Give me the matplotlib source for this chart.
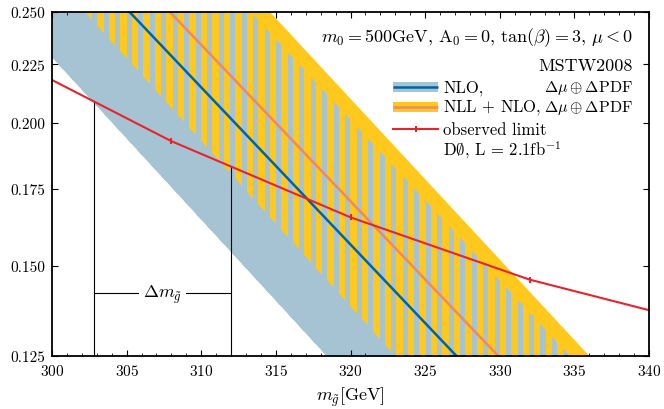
import numpy as np
import matplotlib
matplotlib.use("Agg")
import matplotlib.pyplot as plt
from matplotlib.ticker import MultipleLocator, FixedLocator, FixedFormatter, NullLocator

plt.rcParams['font.family'] = 'serif'
plt.rcParams['font.serif'] = ['cmr10']
plt.rcParams['mathtext.fontset'] = 'cm'
plt.rcParams['axes.formatter.use_mathtext'] = True
plt.rcParams['font.size'] = 13

# band edges, given at the top (0.25) and bottom (0.125) of the plot
y_ends = [0.25, 0.125]
nlo_low = [297.2, 318.4]
nlo_high = [313.3, 334.7]
nlo_central = [305.2, 327.1]
nll_low = [302.2, 323.0]
nll_high = [314.6, 336.0]
nll_central = [307.9, 329.9]

# observed limit
obs_mass = [300, 308, 320, 332, 340]
obs_xsec = [0.218, 0.1927, 0.1653, 0.1458, 0.1371]
obs_marked = [1, 2, 3]

# mass uncertainty bracket
dm_left, dm_right = 302.8, 312.0
dm_left_top, dm_right_top = 0.2085, 0.1833
dm_level = 0.1418

yticks = [0.125, 0.150, 0.175, 0.200, 0.225, 0.250]
ytick_labels = ['0.125', '0.150', '0.175', '0.200', '0.225', '0.250']

c_lightblue = '#a5c3d3'
c_yellow = '#ffc81c'
c_blue = '#0063a5'
c_orange = '#f08a5d'
c_red = '#e8232b'

fig = plt.figure(figsize=(6.64, 4.10), dpi=100)
ax = fig.add_axes([52/664, 1-357/410, 597/664, 344/410])
ax.set_yscale('log')
ax.set_xlim(300, 340)
ax.set_ylim(0.125, 0.25)

# bands
blue_band = ax.fill_betweenx(y_ends, nlo_low, nlo_high, color=c_lightblue, lw=0, zorder=1)
ax.fill_betweenx(y_ends, nll_low, nll_high, color=c_yellow, lw=0, zorder=2)

# vertical stripes where the two bands overlap
clip = blue_band.get_paths()[0]
stripes = ax.bar(np.arange(295, 340, 0.77), 0.2, width=0.34, bottom=0.1,
                 align='edge', color=c_lightblue, lw=0, zorder=3)
for p in stripes:
    p.set_clip_path(clip, transform=ax.transData)

ax.plot(nlo_central, y_ends, color=c_blue, lw=1.8, zorder=4)
ax.plot(nll_central, y_ends, color=c_orange, lw=1.8, zorder=4)

# delta m bracket
ax.vlines([dm_left, dm_right], 0.125, [dm_left_top, dm_right_top], color='black', lw=0.8, zorder=5)
ax.hlines(dm_level, dm_left, dm_right, color='black', lw=0.8, zorder=5)
ax.text((dm_left + dm_right)/2, dm_level, r'$\Delta m_{\tilde{g}}$', ha='center', va='center',
        zorder=6, bbox=dict(facecolor='white', edgecolor='none', pad=3))

ax.plot(obs_mass, obs_xsec, color=c_red, lw=1.5, zorder=7)
ax.plot([obs_mass[i] for i in obs_marked], [obs_xsec[i] for i in obs_marked],
        ls='none', marker='|', ms=4, mew=1.5, color=c_red, zorder=7)

# axes
ax.xaxis.set_major_locator(MultipleLocator(5))
ax.xaxis.set_minor_locator(MultipleLocator(1))
ax.yaxis.set_major_locator(FixedLocator(yticks))
ax.yaxis.set_major_formatter(FixedFormatter(ytick_labels))
ax.yaxis.set_minor_locator(NullLocator())
ax.yaxis.set_minor_formatter(FixedFormatter([]))
ax.tick_params(which='both', direction='in', top=True, right=True)
ax.tick_params(which='major', length=4, width=0.8, labelsize=11, pad=5)
ax.tick_params(which='minor', length=2, width=0.6)
for s in ax.spines.values():
    s.set_linewidth(1.3)
    s.set_zorder(9)
ax.set_xlabel(r'$m_{\tilde{g}}[\mathrm{GeV}]$', fontsize=13, labelpad=5)

# texts and legend, placed in axes fractions
def axpos(px, py):
    return (px - 52) / 597, (357 - py) / 344

T = ax.transAxes
ax.text(*axpos(633, 38), r'$m_0 = 500$GeV, A$_0 = 0$, $\tan(\beta) = 3$, $\mu < 0$',
        transform=T, ha='right', va='center', zorder=8)
ax.text(*axpos(633, 66), 'MSTW2008', transform=T, ha='right', va='center', zorder=8)

rows = [88, 108, 130, 150]
labels = ['NLO,', r'NLL$\,+\,$NLO,', 'observed limit', r'D$\emptyset$, L = 2.1fb$^{-1}$']
for py, lab in zip(rows, labels):
    ax.text(*axpos(443, py), lab, transform=T, ha='left', va='center', zorder=8,
            fontsize=12)
for py in rows[:2]:
    ax.text(*axpos(633, py), r'$\Delta\mu \oplus \Delta\mathrm{PDF}$', transform=T,
            ha='right', va='center', zorder=8, fontsize=11.5)

hx = [axpos(393, 0)[0], axpos(438, 0)[0]]
for py, band_c, line_c in [(rows[0], c_lightblue, c_blue), (rows[1], c_yellow, c_orange)]:
    hy = axpos(0, py)[1]
    ax.plot(hx, [hy, hy], transform=T, color=band_c, lw=7.2, solid_capstyle='butt', zorder=8)
    ax.plot(hx, [hy, hy], transform=T, color=line_c, lw=1.8, solid_capstyle='butt', zorder=8)
hy = axpos(0, rows[2])[1]
ax.plot(hx, [hy, hy], transform=T, color=c_red, lw=1.5, zorder=8)
ax.plot([sum(hx)/2], [hy], transform=T, ls='none', marker='|', ms=4, mew=1.5, color=c_red, zorder=8)

fig.savefig('out.png', dpi=100)
